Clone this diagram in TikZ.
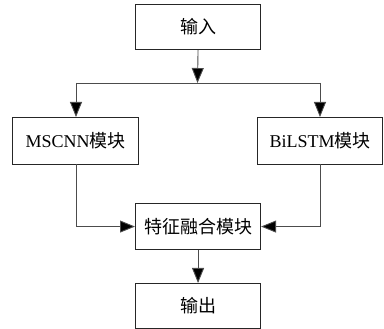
\documentclass[tikz,border=0pt]{standalone}
\usepackage{fontspec}
\setmainfont{Liberation Serif}
\newfontfamily\cjk{Noto Sans CJK SC}
\usetikzlibrary{arrows.meta}
\begin{document}
\begin{tikzpicture}[x=1pt,y=-1pt,
  box/.style={draw=black!85,line width=1.1pt,inner sep=0pt,anchor=north west,font=\fontsize{18}{20}\selectfont},
  conn/.style={draw=black!70,line width=0.9pt},
  arr/.style={conn,-{Triangle[length=15pt,width=12pt,fill=black]}}]
\useasboundingbox (0,0) rectangle (384,329);
\node[box,minimum width=125pt,minimum height=45pt] (in) at (135,4) {\cjk 输入};
\node[box,minimum width=126pt,minimum height=47pt] (ms) at (12,117) {MSCNN{\cjk 模块}};
\node[box,minimum width=125pt,minimum height=47pt] (bi) at (257,117) {BiLSTM{\cjk 模块}};
\node[box,minimum width=125pt,minimum height=46pt] (fu) at (135,203) {\cjk 特征融合模块};
\node[box,minimum width=125pt,minimum height=45pt] (out) at (135,283) {\cjk 输出};
\coordinate (j) at (197.5,83);
\coordinate (l) at (76,83);
\coordinate (r) at (320,83);
\coordinate (lt) at (76,117);
\coordinate (rt) at (320,117);
\coordinate (lb) at (76,164);
\coordinate (rb) at (320,164);
\draw[arr] (in.south) -- (j);
\draw[conn] (l) -- (r);
\draw[arr] (l) -- (lt);
\draw[arr] (r) -- (rt);
\draw[arr] (lb) |- (fu.west);
\draw[arr] (rb) |- (fu.east);
\draw[arr] (fu.south) -- (out.north);
\end{tikzpicture}
\end{document}
